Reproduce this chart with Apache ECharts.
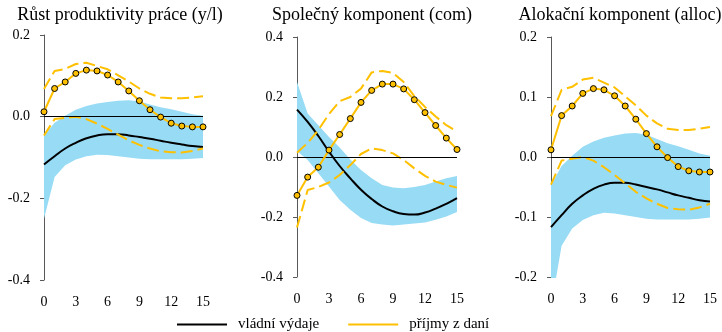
<!DOCTYPE html>
<html>
<head>
<meta charset="utf-8">
<script src="https://cdn.jsdelivr.net/npm/echarts@6/dist/echarts.min.js"></script>
<style>
html, body { margin: 0; padding: 0; background: #fff; }
#chart { width: 722px; height: 332px; }
</style>
</head>
<body>
<div id="chart"></div>
<script>
// horizont (ctvrtleti)
var periods = ['0', '1', '2', '3', '4', '5', '6', '7', '8', '9', '10', '11', '12', '13', '14', '15'];

// y/l a alloc - oba panely ukazuji stejne krivky
var ylGov = [-0.117, -0.097, -0.078, -0.064, -0.053, -0.046, -0.043, -0.043, -0.046, -0.050, -0.054, -0.059, -0.064, -0.068, -0.072, -0.074];
var ylGovLo = [-0.250, -0.148, -0.119, -0.105, -0.097, -0.093, -0.094, -0.097, -0.100, -0.103, -0.104, -0.104, -0.104, -0.104, -0.103, -0.101];
var ylGovUp = [-0.047, -0.015, 0.002, 0.017, 0.026, 0.032, 0.036, 0.039, 0.040, 0.037, 0.030, 0.023, 0.018, 0.012, 0.006, 0.002];
var ylTax = [0.012, 0.069, 0.085, 0.106, 0.114, 0.112, 0.102, 0.085, 0.063, 0.039, 0.017, -0.001, -0.016, -0.023, -0.025, -0.025];
var ylTaxLo = [-0.046, -0.006, -0.003, 0.000, -0.006, -0.017, -0.030, -0.044, -0.058, -0.069, -0.078, -0.085, -0.087, -0.088, -0.084, -0.078];
var ylTaxUp = [0.068, 0.112, 0.117, 0.129, 0.132, 0.124, 0.116, 0.101, 0.086, 0.069, 0.056, 0.047, 0.045, 0.045, 0.047, 0.050];

// com
var comGov = [0.158, 0.117, 0.070, 0.018, -0.030, -0.071, -0.109, -0.140, -0.165, -0.181, -0.190, -0.192, -0.185, -0.172, -0.156, -0.137];
var comGovLo = [0.020, -0.010, -0.054, -0.098, -0.143, -0.176, -0.203, -0.220, -0.225, -0.228, -0.225, -0.222, -0.218, -0.209, -0.198, -0.183];
var comGovUp = [0.250, 0.145, 0.106, 0.067, 0.032, -0.008, -0.043, -0.071, -0.093, -0.102, -0.104, -0.100, -0.093, -0.082, -0.071, -0.063];
var comTax = [-0.128, -0.067, -0.034, 0.023, 0.075, 0.128, 0.182, 0.222, 0.243, 0.243, 0.227, 0.191, 0.148, 0.105, 0.063, 0.025];
var comTaxLo = [-0.235, -0.110, -0.100, -0.085, -0.060, -0.027, 0.010, 0.029, 0.023, 0.012, -0.010, -0.038, -0.063, -0.082, -0.093, -0.102];
var comTaxUp = [0.014, 0.047, 0.090, 0.143, 0.186, 0.200, 0.228, 0.282, 0.287, 0.280, 0.250, 0.203, 0.167, 0.135, 0.106, 0.085];

var titles = ['Růst produktivity práce (y/l)', 'Společný komponent (com)', 'Alokační komponent (alloc)'];
var legendNames = ['vládní výdaje', 'příjmy z daní'];

var ORANGE = '#FFC000';
var BAND = '#97DBF5';
var FONT = 'Liberation Serif';

var grids = [
	{ left: 44, top: 35, width: 159, height: 245 },
	{ left: 297, top: 37, width: 160, height: 240 },
	{ left: 551, top: 37, width: 159, height: 240 }
];
var yRanges = [
	{ min: -0.4, max: 0.2, interval: 0.2 },
	{ min: -0.4, max: 0.4, interval: 0.2 },
	{ min: -0.2, max: 0.2, interval: 0.1 }
];
var titleCenters = [120, 372, 620];

function diff(up, lo) {
	var out = [];
	for (var i = 0; i < up.length; i++) {
		out.push(+(up[i] - lo[i]).toFixed(4));
	}
	return out;
}

function panelSeries(k, gov, govLo, govUp, tax, taxLo, taxUp) {
	var stackId = 'band' + k;
	var dashed = { color: ORANGE, width: 2, type: [12, 5] };
	return [
		{ // spodni hrana pasu
			name: 'lo' + k, type: 'line', xAxisIndex: k, yAxisIndex: k,
			data: govLo, stack: stackId, stackStrategy: 'all',
			symbol: 'none', lineStyle: { opacity: 0 }, silent: true, z: 1
		},
		{ // pas spolehlivosti
			name: 'band' + k, type: 'line', xAxisIndex: k, yAxisIndex: k,
			data: diff(govUp, govLo), stack: stackId, stackStrategy: 'all',
			symbol: 'none', lineStyle: { opacity: 0 },
			areaStyle: { color: BAND, opacity: 1 }, silent: true, z: 1
		},
		{
			name: legendNames[0], type: 'line', xAxisIndex: k, yAxisIndex: k,
			data: gov, smooth: true, symbol: 'none', z: 3,
			itemStyle: { color: '#000' },
			lineStyle: { color: '#000', width: 2 },
			markLine: {
				silent: true, symbol: 'none', label: { show: false },
				lineStyle: { color: '#000', width: 1.2, type: 'solid' },
				data: [{ yAxis: 0 }]
			}
		},
		{
			name: 'taxLo' + k, type: 'line', xAxisIndex: k, yAxisIndex: k,
			data: taxLo, symbol: 'none', lineStyle: dashed, z: 4
		},
		{
			name: 'taxUp' + k, type: 'line', xAxisIndex: k, yAxisIndex: k,
			data: taxUp, symbol: 'none', lineStyle: dashed, z: 4
		},
		{
			name: legendNames[1], type: 'line', xAxisIndex: k, yAxisIndex: k,
			data: tax, symbol: 'circle', symbolSize: 6, z: 5,
			itemStyle: { color: ORANGE, borderColor: '#000', borderWidth: 1 },
			lineStyle: { color: ORANGE, width: 2 }
		}
	];
}

var chart = echarts.init(document.getElementById('chart'));

var xAxes = [], yAxes = [], titleList = [];
for (var k = 0; k < 3; k++) {
	xAxes.push({
		gridIndex: k, type: 'category', data: periods, boundaryGap: false,
		axisLine: { show: false }, axisTick: { show: false }, splitLine: { show: false },
		axisLabel: { interval: 2, margin: 15, color: '#000', fontFamily: FONT, fontSize: 14 }
	});
	yAxes.push({
		gridIndex: k, type: 'value',
		min: yRanges[k].min, max: yRanges[k].max, interval: yRanges[k].interval,
		splitLine: { show: false },
		axisLine: { show: true, lineStyle: { color: '#595959', width: 1 } },
		axisTick: { show: true, length: 4, lineStyle: { color: '#595959' } },
		axisLabel: {
			margin: 14, color: '#000', fontFamily: FONT, fontSize: 14,
			formatter: function(v) { return v.toFixed(1); }
		}
	});
	titleList.push({
		text: titles[k], left: titleCenters[k], top: 6, textAlign: 'center', padding: 0,
		textStyle: { fontFamily: FONT, fontSize: 18, fontWeight: 'normal', color: '#000' }
	});
}

var option = {
	animation: false,
	backgroundColor: '#fff',
	title: titleList,
	grid: grids,
	xAxis: xAxes,
	yAxis: yAxes,
	legend: {
		data: [
			{ name: legendNames[0], icon: 'rect', itemStyle: { color: '#000', borderWidth: 0 } },
			{ name: legendNames[1], icon: 'rect', itemStyle: { color: ORANGE, borderWidth: 0 } }
		],
		left: 172, top: 312,
		itemWidth: 50, itemHeight: 2, itemGap: 29,
		selectedMode: false,
		textStyle: { fontFamily: FONT, fontSize: 15, color: '#000', padding: [0, 0, 0, 6] }
	},
	series: [].concat(
		panelSeries(0, ylGov, ylGovLo, ylGovUp, ylTax, ylTaxLo, ylTaxUp),
		panelSeries(1, comGov, comGovLo, comGovUp, comTax, comTaxLo, comTaxUp),
		panelSeries(2, ylGov, ylGovLo, ylGovUp, ylTax, ylTaxLo, ylTaxUp)
	)
};
chart.setOption(option, true);
</script>
</body>
</html>
